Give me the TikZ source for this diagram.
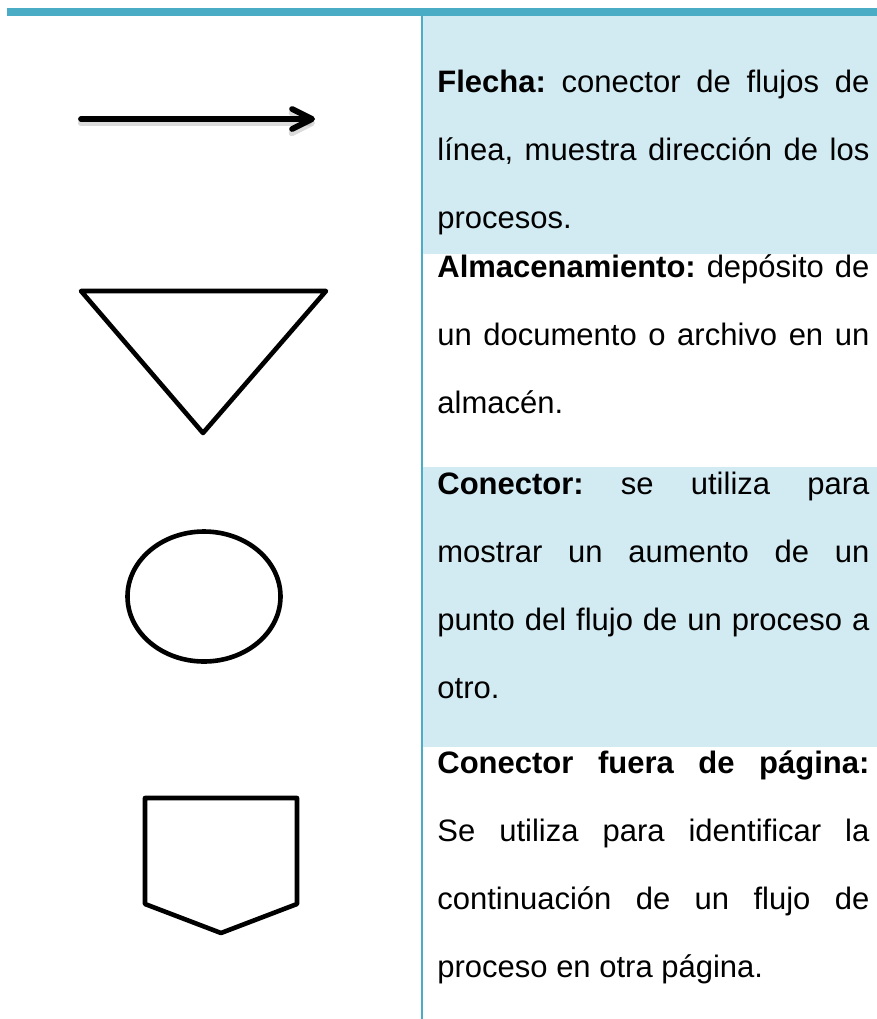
\documentclass[tikz,border=0pt]{standalone}
\usepackage{fontspec}
\setmainfont{Liberation Sans}
\usepackage{xcolor}
\usetikzlibrary{arrows.meta}
\definecolor{barteal}{HTML}{4BACC6}
\definecolor{rowblue}{HTML}{D2EAF1}

\begin{document}
\begin{tikzpicture}[x=0.5pt,y=-0.5pt,
		symbol/.style={draw=black,line width=2.3pt,line join=round},
		flowarrow/.style={draw=black,line width=2.9pt,line cap=round,-{Straight Barb[length=10pt,width=10pt,line cap=round,line join=round]}},
		desc/.style={anchor=base west,inner sep=0pt,text width=216pt,align=justify,font=\fontsize{15.5}{34}\selectfont\frenchspacing}]
			\useasboundingbox (0,0) rectangle (877,1019);
			%% table
			\fill[rowblue] (423,16) rectangle (877,254);
			\fill[rowblue] (423,467) rectangle (877,747);
			\fill[barteal] (7,8) rectangle (877,16);
			\draw[barteal,line width=1pt] (422,16) -- (422,1019);
			%% symbols
			\coordinate (arrowstart) at (81,119);
			\coordinate (arrowend) at (315,119);
			\draw[flowarrow,draw=black!35,opacity=.4,line width=3.2pt] ([yshift=-2pt]arrowstart) -- ([yshift=-2pt]arrowend);
			\draw[flowarrow] (arrowstart) -- (arrowend);
			\draw[symbol] (81,291) -- (326,291) -- (203,433) -- cycle;
			\draw[symbol] (204,596.5) ellipse [x radius=76.5, y radius=65];
			\draw[symbol] (145,798) -- (297,798) -- (297,904) -- (221,933) -- (145,904) -- cycle;
			%% texts
			\node[desc] (flecha) at (437,92) {\textbf{Flecha:} conector de flujos de\linebreak línea, muestra dirección de los\linebreak procesos.};
			\node[desc] (almacen) at (437,277) {\textbf{Almacenamiento:} depósito de\linebreak un documento o archivo en un\linebreak almacén.};
			\node[desc] (conector) at (437,494) {\textbf{Conector:} se utiliza para\linebreak mostrar un aumento de un\linebreak punto del flujo de un proceso a\linebreak otro.};
			\node[desc] (fuera) at (437,773) {\textbf{Conector fuera de página:}\linebreak Se utiliza para identificar la\linebreak continuación de un flujo de\linebreak proceso en otra página.};
\end{tikzpicture}
\end{document}
